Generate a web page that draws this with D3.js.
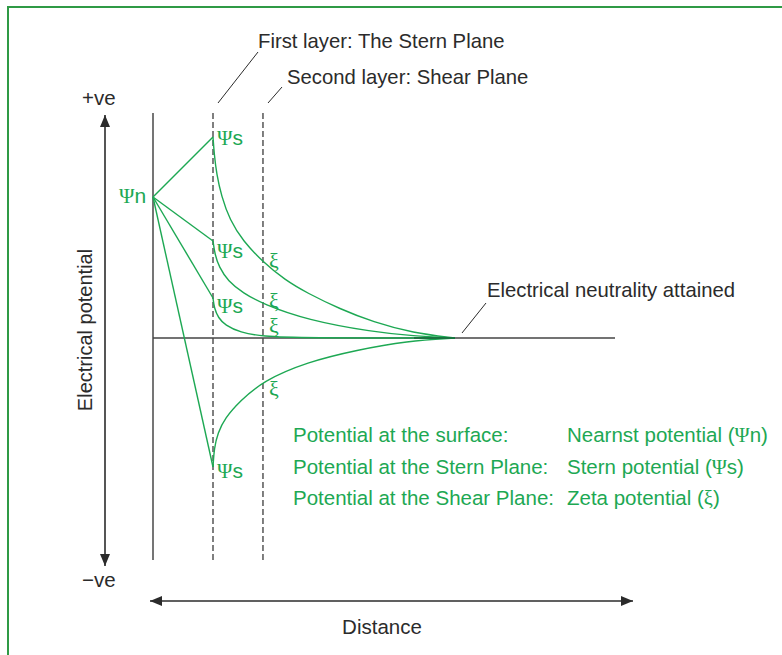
<!DOCTYPE html>
<html>
<head>
<meta charset="utf-8">
<script src="https://cdn.jsdelivr.net/npm/d3@7"></script>
<style>
  body { margin: 0; background: #fff; }
  svg text { font-family: "Liberation Sans", Arial, sans-serif; }
  .greek { font-family: "Liberation Serif", "DejaVu Serif", serif; }
</style>
</head>
<body>
<div id="chart"></div>
<script>
// potentials in arbitrary units, distance in arbitrary units from the surface
const surfacePotential = 70.5
const sternPlane       = 1.0
const shearPlane       = 1.833
const neutralDistance  = 5.033

// potential reached at the Stern plane, one per curve
const sternPotentials = [100.5, 48.5, 20, -64.5]

// potential read at the shear plane, one per curve (the zeta potential)
const zetaPotentials = [38, 17, 0.75, -21.5]

// decay of potential beyond the Stern plane, [distance, potential]
const decay1 = [[1.0, 100.5], [1.02, 92], [1.06, 82], [1.14, 71], [1.28, 59], [1.5, 48.5],
                [1.833, 38], [2.2, 29], [2.567, 22.5], [3.117, 14.5], [3.667, 8], [4.333, 2.5], [5.033, 0]]
const decay2 = [[1.0, 48.5], [1.03, 42], [1.1, 35.5], [1.25, 28.5], [1.5, 22.5], [1.833, 17],
                [2.567, 9], [3.667, 3], [4.333, 1], [5.033, 0]]
const decay3 = [[1.0, 20], [1.02, 15], [1.09, 10], [1.2, 6.5], [1.45, 2.8], [1.833, 0.75],
                [2.45, 0], [5.033, 0]]
const decay4 = [[1.0, -64.5], [1.02, -55], [1.08, -47.5], [1.2, -40], [1.45, -31.5],
                [1.833, -21.5], [2.567, -12], [3.4, -6], [4.233, -1.5], [5.033, 0]]
const decayCurves = [decay1, decay2, decay3, decay4]

const legendLeft  = ["Potential at the surface:", "Potential at the Stern Plane:", "Potential at the Shear Plane:"]
const legendRight = [["Nearnst potential (", "\u03A8", "n)"], ["Stern potential (", "\u03A8", "s)"], ["Zeta potential (", "\u03BE", ")"]]

const green = "#1da853"
const ink   = "#2b2b2b"

let svg = d3.select("#chart").append("svg")
  .attr("width", 782)
  .attr("height", 655)

let x = d3.scaleLinear().domain([0, 7.7]).range([153, 615])
let y = d3.scaleLinear().domain([-111, 112.5]).range([560, 113])

let defs = svg.append("defs")
defs.append("marker")
  .attr("id", "arrow")
  .attr("viewBox", "0 0 12 10")
  .attr("refX", 12).attr("refY", 5)
  .attr("markerWidth", 12).attr("markerHeight", 10)
  .attr("markerUnits", "userSpaceOnUse")
  .attr("orient", "auto-start-reverse")
  .append("path")
  .attr("d", "M0,0 L12,5 L0,10 Z")
  .attr("fill", ink)

// frame
svg.append("rect")
  .attr("x", 8).attr("y", 7)
  .attr("width", 900).attr("height", 800)
  .attr("fill", "none")
  .attr("stroke", "#2f9a45")
  .attr("stroke-width", 2)

// potential arrow
svg.append("line")
  .attr("x1", 105).attr("x2", 105)
  .attr("y1", 115).attr("y2", 566)
  .attr("stroke", ink).attr("stroke-width", 1.6)
  .attr("marker-start", "url(#arrow)")
  .attr("marker-end", "url(#arrow)")

// distance arrow
svg.append("line")
  .attr("x1", 150).attr("x2", 633)
  .attr("y1", 601).attr("y2", 601)
  .attr("stroke", ink).attr("stroke-width", 1.6)
  .attr("marker-start", "url(#arrow)")
  .attr("marker-end", "url(#arrow)")

// surface
svg.append("line")
  .attr("x1", x(0)).attr("x2", x(0))
  .attr("y1", y(112.5)).attr("y2", y(-111))
  .attr("stroke", ink).attr("stroke-width", 1.3)

// stern and shear planes
svg.selectAll(".plane")
  .data([sternPlane, shearPlane])
  .enter().append("line")
  .attr("class", "plane")
  .attr("x1", d => x(d)).attr("x2", d => x(d))
  .attr("y1", y(112.5)).attr("y2", y(-111))
  .attr("stroke", ink).attr("stroke-width", 1.2)
  .attr("stroke-dasharray", "6,3")

// zero line
svg.append("line")
  .attr("x1", x(0)).attr("x2", x(7.7))
  .attr("y1", y(0)).attr("y2", y(0))
  .attr("stroke", "#444").attr("stroke-width", 1.4)

// straight ramps from the surface to the stern plane
svg.selectAll(".ramp")
  .data(sternPotentials)
  .enter().append("line")
  .attr("class", "ramp")
  .attr("x1", x(0)).attr("y1", y(surfacePotential))
  .attr("x2", x(sternPlane)).attr("y2", d => y(d))
  .attr("stroke", green).attr("stroke-width", 1.4)

let line = d3.line()
  .x(d => x(d[0]))
  .y(d => y(d[1]))
  .curve(d3.curveBasis)

svg.selectAll(".decay")
  .data(decayCurves)
  .enter().append("path")
  .attr("class", "decay")
  .attr("d", line)
  .attr("fill", "none")
  .attr("stroke", green).attr("stroke-width", 1.4)

// dark overlap near neutrality
svg.append("line")
  .attr("x1", x(4.35)).attr("x2", x(neutralDistance))
  .attr("y1", y(0)).attr("y2", y(0))
  .attr("stroke", "#17653a").attr("stroke-width", 1.6)

// Ψ / ξ labels
svg.append("text")
  .attr("x", x(0) - 34).attr("y", y(surfacePotential) + 6)
  .attr("fill", green).attr("font-size", 21)
  .html('<tspan class="greek">\u03A8</tspan>n')

let psDy = [8, 17, 15, 11]
svg.selectAll(".psLabel")
  .data(sternPotentials)
  .enter().append("text")
  .attr("class", "psLabel")
  .attr("x", x(sternPlane) + 4)
  .attr("y", (d, i) => y(d) + psDy[i])
  .attr("fill", green).attr("font-size", 21)
  .html('<tspan class="greek">\u03A8</tspan>s')

let xiDy = [6, 4, -4, 15]
svg.selectAll(".xiLabel")
  .data(zetaPotentials)
  .enter().append("text")
  .attr("class", "xiLabel greek")
  .attr("x", x(shearPlane) + 6)
  .attr("y", (d, i) => y(d) + xiDy[i])
  .attr("fill", green).attr("font-size", 22)
  .text("\u03BE")

// annotations
let notes = [
  {text: "First layer: The Stern Plane",    tx: 258, ty: 48,  x1: 218, y1: 103, x2: 258, y2: 52},
  {text: "Second layer: Shear Plane",       tx: 287, ty: 84,  x1: 268, y1: 103, x2: 282, y2: 87},
  {text: "Electrical neutrality attained",  tx: 487, ty: 297, x1: 462, y1: 333, x2: 486, y2: 303}
]
notes.forEach(function(n){
  svg.append("line")
    .attr("x1", n.x1).attr("y1", n.y1).attr("x2", n.x2).attr("y2", n.y2)
    .attr("stroke", ink).attr("stroke-width", 1)
  svg.append("text")
    .attr("x", n.tx).attr("y", n.ty)
    .attr("fill", ink).attr("font-size", 20.3)
    .text(n.text)
})

svg.append("text").attr("x", 82).attr("y", 105)
  .attr("fill", ink).attr("font-size", 20.5).text("+ve")
svg.append("text").attr("x", 82).attr("y", 587)
  .attr("fill", ink).attr("font-size", 20.5).text("\u2212ve")

svg.append("text")
  .attr("transform", "translate(92,330) rotate(-90)")
  .attr("text-anchor", "middle")
  .attr("fill", ink).attr("font-size", 20)
  .text("Electrical potential")

svg.append("text")
  .attr("x", 382).attr("y", 634)
  .attr("text-anchor", "middle")
  .attr("fill", ink).attr("font-size", 20.5)
  .text("Distance")

// legend
legendLeft.forEach(function(t, i){
  svg.append("text")
    .attr("x", 293).attr("y", 442 + i * 31.5)
    .attr("fill", green).attr("font-size", 20.5)
    .text(t)
})
legendRight.forEach(function(parts, i){
  svg.append("text")
    .attr("x", 567).attr("y", 442 + i * 31.5)
    .attr("fill", green).attr("font-size", 20.5)
    .html(parts[0] + '<tspan class="greek">' + parts[1] + '</tspan>' + parts[2])
})
</script>
</body>
</html>
